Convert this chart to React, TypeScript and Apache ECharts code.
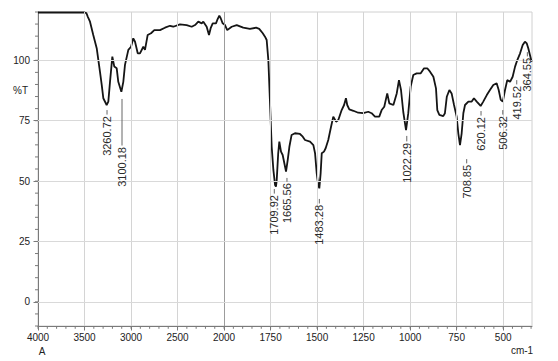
import React, { useEffect, useRef } from 'react';
import * as echarts from 'echarts';

// IR spectrum: [wavenumber cm-1, %T]
const spectrum: [number, number][] = [
  [4000, 119.8], [3800, 119.8], [3500, 119.8], [3480, 119.5], [3463, 117.9], [3441, 116], [3406, 110.5],
  [3369, 105], [3334, 95.3], [3315, 89.8], [3298, 84.3], [3262, 81.5], [3244, 82.9], [3226, 91.1],
  [3201, 101.5], [3180, 97.4], [3154, 96.7], [3137, 91.1], [3104, 87], [3083, 91.1], [3065, 98.1],
  [3029, 104.3], [3000, 105.6], [2976, 109.1], [2957, 107.7], [2928, 102.9], [2904, 102.9], [2868, 105.6],
  [2850, 104.3], [2821, 110.5], [2785, 111.2], [2750, 112.5], [2689, 112.5], [2635, 113.5], [2581, 114.3],
  [2546, 113.9], [2474, 114.9], [2402, 114.6], [2348, 113.9], [2312, 114.6], [2277, 116], [2240, 115.3],
  [2223, 116], [2187, 113.9], [2162, 110.5], [2144, 113.3], [2122, 115.3], [2087, 115.3], [2073, 116.7],
  [2051, 118.5], [2036, 117.4], [2015, 115.3], [1995, 114.6], [1983, 112.5], [1959, 113.9], [1932, 114.6],
  [1897, 113.5], [1861, 113], [1828, 113.5], [1811, 113], [1792, 111.2], [1780, 109.8], [1771, 108.4],
  [1762, 100.1], [1753, 82.2], [1744, 64.2], [1735, 54.6], [1726, 48.4], [1721, 47.7], [1717, 50.4],
  [1709, 61.5], [1703, 66.3], [1694, 62.2], [1685, 60.8], [1676, 57.4], [1667, 53.9], [1658, 58.7],
  [1649, 64.2], [1637, 69.1], [1619, 69.8], [1592, 69.5], [1577, 68.4], [1565, 67], [1538, 66.3],
  [1520, 64.9], [1511, 61.5], [1502, 53.2], [1494, 48.4], [1488, 47], [1481, 53.2], [1475, 61.5],
  [1463, 62.2], [1454, 63.6], [1440, 67], [1425, 72.5], [1413, 76.7], [1398, 74.6], [1386, 75.3],
  [1368, 79.4], [1355, 81.5], [1345, 84.3], [1338, 81.5], [1327, 79.7], [1305, 79.1], [1279, 78.3],
  [1252, 78.1], [1225, 78.7], [1207, 78.1], [1189, 76.7], [1166, 76.7], [1153, 79.4], [1139, 80.8],
  [1123, 86.3], [1112, 82.2], [1090, 81.5], [1072, 86.3], [1060, 91.8], [1049, 87.7], [1037, 78.7],
  [1022, 71.1], [1010, 78.1], [997, 89.1], [983, 93.9], [965, 94.6], [943, 94.6], [925, 96.7],
  [908, 96.7], [893, 95.3], [875, 93.2], [861, 88.4], [854, 79.4], [843, 77.4], [822, 76.9],
  [813, 78.1], [803, 84.9], [789, 87.7], [777, 86.3], [764, 81.5], [750, 76.7], [741, 69.8],
  [732, 64.9], [723, 69.8], [714, 78.1], [705, 81.5], [687, 82.9], [669, 82.9], [657, 84.3],
  [642, 82.9], [621, 81.1], [607, 82.9], [588, 85.6], [571, 87.7], [553, 89.8], [535, 90.5],
  [524, 87.7], [513, 83.6], [502, 82.9], [490, 87.7], [478, 91.8], [463, 91.1], [449, 93.2],
  [436, 97.4], [424, 100.1], [409, 102.9], [395, 106.3], [383, 107.7], [373, 107], [365, 105],
  [356, 102.2], [347, 99.4],
];

// Peak annotations
const peakLabels = ['3260.72', '3100.18', '1709.92', '1665.56', '1483.28', '1022.29', '708.85', '620.12', '506.32', '419.52', '364.55'];
const peakLabelWn = [3258, 3097, 1730, 1662, 1488, 1018, 696, 619, 502, 427, 370];
const peakLabelTop = [76.9, 64.1, 44.2, 49.1, 40.1, 65.8, 56.7, 76.5, 76.9, 89.4, 101];
const peakLeaderTop = [79.4, 84, 46.7, 51.3, 42.6, 68.7, 59.1, 79, 79.4, 91.8, 103.4];

// Axis ticks
const xMajorWn = [4000, 3500, 3000, 2500, 2000, 1750, 1500, 1250, 1000, 750, 500];
const yMajor = [0, 25, 50, 75, 100];

const FONT = "'Liberation Sans', Arial, sans-serif";

// wavenumber axis is compressed 2x above 2000 cm-1
function toX(w: number) { return w > 2000 ? 2000 + (w - 2000) / 2 : w; }
function fromX(x: number) { return x > 2000 ? 2 * x - 2000 : x; }

export default function App() {
  const ref = useRef<HTMLDivElement>(null);
  useEffect(() => {
    document.body.style.margin = '0';
    if (!ref.current) return;
    const chart = echarts.init(ref.current, undefined, { renderer: 'svg' });
    const xMajor = xMajorWn.map(toX);
    const xMinor: number[] = [];
    for (let v = 350; v <= 3000; v += 50) xMinor.push(v);
    const yMinor: number[] = [];
    for (let v = -10; v <= 120; v += 5) yMinor.push(v);
    const axisColor = '#7a7a7a';

    chart.setOption({
      animation: false,
      backgroundColor: '#ffffff',
      grid: { left: 38, right: 26, top: 12, bottom: 35, show: true, borderColor: '#d0d0d0', borderWidth: 1 },
      xAxis: {
        type: 'value', min: 345, max: 3000, inverse: true, position: 'bottom',
        axisLine: { show: true, onZero: false, lineStyle: { color: axisColor, width: 1 } },
        axisTick: { show: true, customValues: xMajor, length: 4.5, lineStyle: { color: axisColor } },
        axisLabel: {
          show: true, customValues: xMajor, margin: 6, color: '#222', fontSize: 10, fontFamily: FONT,
          formatter: (v: number) => String(Math.round(fromX(v))),
        },
        splitLine: { show: false },
      },
      yAxis: {
        type: 'value', min: -10, max: 120, position: 'left',
        axisLine: { show: true, onZero: false, lineStyle: { color: axisColor, width: 1 } },
        axisTick: { show: true, customValues: yMajor, length: 4.5, lineStyle: { color: axisColor } },
        axisLabel: { show: true, customValues: yMajor, margin: 8, color: '#222', fontSize: 10, fontFamily: FONT },
        splitLine: { show: false },
      },
      series: [
        {
          type: 'line', data: [], z: 1, silent: true,
          markLine: {
            silent: true, symbol: 'none', label: { show: false }, animation: false,
            data: [
              ...xMajorWn.filter((w) => w !== 4000).map((w) => ({
                xAxis: toX(w),
                lineStyle: { color: w === 2000 ? '#9c9c9c' : '#d4d4d4', width: 1, type: 'solid' },
              })),
              ...yMajor.map((v) => ({ yAxis: v, lineStyle: { color: '#d9d9d9', width: 1, type: 'solid' } })),
            ],
          },
        },
        {
          type: 'line', z: 3,
          data: spectrum.map(([w, t]) => [toX(w), t]),
          showSymbol: false, symbol: 'none', clip: true,
          lineStyle: { color: '#151515', width: 1.8 },
        },
      ],
    });

    const toPx = (x: number, y: number) => chart.convertToPixel({ xAxisIndex: 0, yAxisIndex: 0 }, [x, y]) as number[];
    const graphics: any[] = [];
    const origin = toPx(3000, -10);
    // minor ticks
    xMinor.forEach((v) => {
      const p = toPx(v, -10);
      graphics.push({ type: 'line', silent: true, z: 5, shape: { x1: p[0], y1: origin[1], x2: p[0], y2: origin[1] + 2.8 }, style: { stroke: '#7a7a7a', lineWidth: 1 } });
    });
    yMinor.forEach((v) => {
      const p = toPx(3000, v);
      graphics.push({ type: 'line', silent: true, z: 5, shape: { x1: origin[0] - 3, y1: p[1], x2: origin[0], y2: p[1] }, style: { stroke: '#7a7a7a', lineWidth: 1 } });
    });
    peakLabels.forEach((txt, i) => {
      const x = toX(peakLabelWn[i]);
      const pTop = toPx(x, peakLabelTop[i]);
      const pLead = toPx(x, peakLeaderTop[i]);
      graphics.push({
        type: 'line', silent: true, z: 10,
        shape: { x1: pTop[0], y1: pLead[1], x2: pTop[0], y2: pTop[1] - 1.5 },
        style: { stroke: '#666', lineWidth: 1 },
      });
      graphics.push({
        type: 'text', silent: true, z: 10, x: pTop[0], y: pTop[1], rotation: Math.PI / 2,
        style: { text: txt, fill: '#2a2a2a', font: `11px ${FONT}`, align: 'right', verticalAlign: 'middle' },
      });
    });
    graphics.push({ type: 'text', silent: true, x: 28, y: 90, style: { text: '%T', fill: '#222', font: `10px ${FONT}`, align: 'right', verticalAlign: 'middle' } });
    graphics.push({ type: 'text', silent: true, x: 42, y: 351, style: { text: 'A', fill: '#222', font: `10px ${FONT}`, align: 'center', verticalAlign: 'middle' } });
    graphics.push({ type: 'text', silent: true, x: 522, y: 350, style: { text: 'cm-1', fill: '#222', font: `10px ${FONT}`, align: 'center', verticalAlign: 'middle' } });
    chart.setOption({ graphic: graphics });

    return () => chart.dispose();
  }, []);
  return <div ref={ref} style={{ width: 558, height: 361, background: '#fff' }} />;
}
